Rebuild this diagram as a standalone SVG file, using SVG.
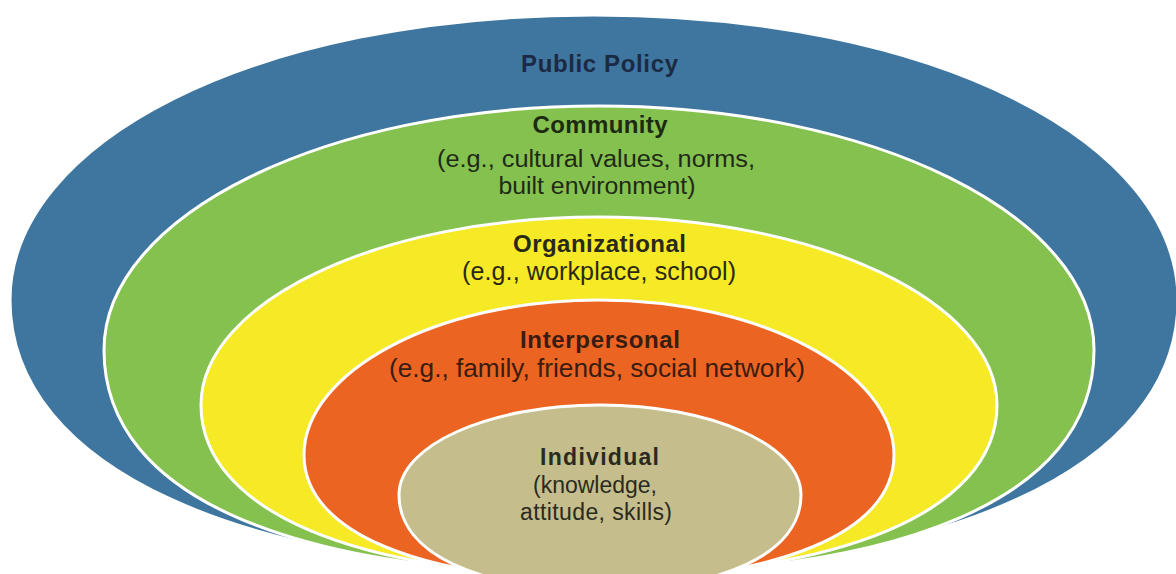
<svg xmlns="http://www.w3.org/2000/svg" width="1176" height="574" viewBox="0 0 1176 574">
<style>
.ring{stroke:#ffffff;stroke-width:3}
.t{font-family:"Liberation Sans",Arial,sans-serif;text-anchor:middle}
.b{font-weight:bold;font-size:24px}
.r{font-size:25px}
.c{font-size:23px}
.s{font-size:23px}
</style>
<rect width="1176" height="574" fill="#ffffff"/>
<g id="public-policy">
<path class="ring" fill="#3f76a0" d="M10,300 C10,468.6 244,572 594,572 C944,572 1178,468.6 1178,300 C1178,142.6 935,15 594,15 C253,15 10,142.6 10,300 Z"/>
<text class="t b" x="599.5" y="72" fill="#1b2a42" textLength="157">Public Policy</text>
</g>
<g id="community">
<path class="ring" fill="#85c14f" d="M104,350 C104,501 301,574 599,574 C896,574 1094,501 1094,350 C1094,215 872,106 599,106 C326,106 104,215 104,350 Z"/>
<text class="t b" x="600" y="133" fill="#1c2a12" textLength="135">Community</text>
<text class="t c" fill="#1f2a16"><tspan x="596" y="167" textLength="318" lengthAdjust="spacingAndGlyphs">(e.g., cultural values, norms,</tspan><tspan x="597" y="193.5" textLength="197" lengthAdjust="spacingAndGlyphs">built environment)</tspan></text>
</g>
<g id="organizational">
<path class="ring" fill="#f6e925" d="M201,405 C201,512 360,576 599,576 C838,576 997,512 997,405 C997,302 819,217 599,217 C379,217 201,302 201,405 Z"/>
<text class="t b" x="599.5" y="252" fill="#2a2816" textLength="173">Organizational</text>
<text class="t r" x="599" y="280" fill="#2a2816" textLength="274">(e.g., workplace, school)</text>
</g>
<g id="interpersonal">
<path class="ring" fill="#ec6422" d="M304,455 C304,533 422,580 599,580 C776,580 894,533 894,455 C894,372 762,300 599,300 C436,300 304,372 304,455 Z"/>
<text class="t b" x="600" y="348" fill="#3a1c10" textLength="160">Interpersonal</text>
<text class="t r" x="597" y="377" fill="#3a1c10" textLength="416" lengthAdjust="spacingAndGlyphs">(e.g., family, friends, social network)</text>
</g>
<g id="individual">
<path class="ring" fill="#c5be8c" d="M399,495 C399,554 479,590 600,590 C721,590 801,554 801,495 C801,445 711,405 600,405 C489,405 399,445 399,495 Z"/>
<text class="t b s" x="599.5" y="465" fill="#2a2a20" textLength="119">Individual</text>
<text class="t s" fill="#2a2a20"><tspan x="595" y="493" textLength="124">(knowledge,</tspan><tspan x="596" y="520" textLength="152">attitude, skills)</tspan></text>
</g>
<g id="connectors"></g>
</svg>
